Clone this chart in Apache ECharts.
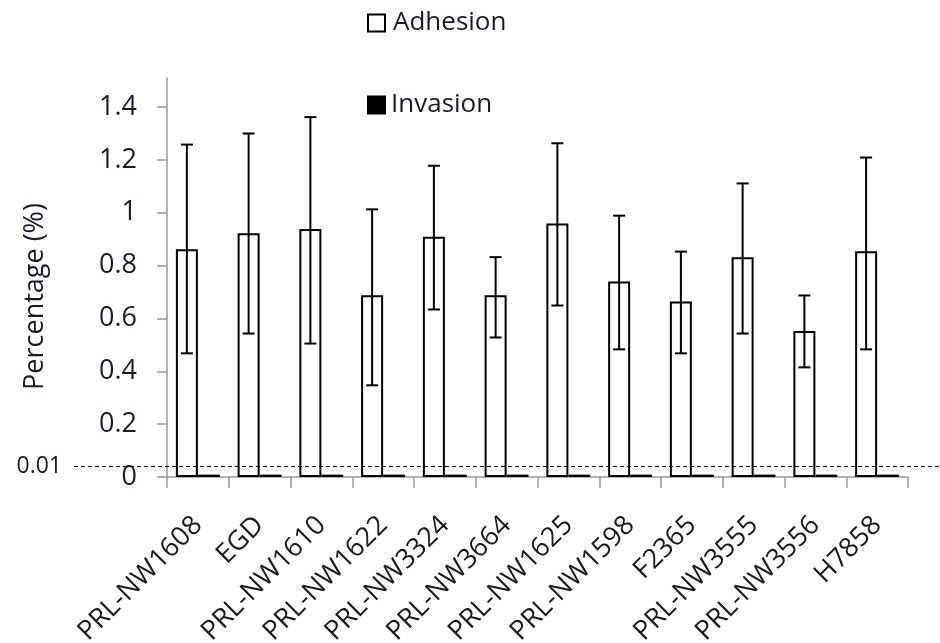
<!DOCTYPE html>
<html>
<head>
<meta charset="utf-8">
<script src="https://cdn.jsdelivr.net/npm/echarts@6/dist/echarts.min.js"></script>
<style>
  html, body { margin: 0; padding: 0; background: #fff; }
  #chart { width: 940px; height: 643px; }
</style>
</head>
<body>
<div id="chart"></div>
<script>
const strains = [
  'PRL-NW1608', 'EGD', 'PRL-NW1610', 'PRL-NW1622', 'PRL-NW3324', 'PRL-NW3664',
  'PRL-NW1625', 'PRL-NW1598', 'F2365', 'PRL-NW3555', 'PRL-NW3556', 'H7858',
]
const adhesion = [0.862, 0.922, 0.939, 0.688, 0.909, 0.688, 0.959, 0.740, 0.664, 0.832, 0.553, 0.854]
const adhesionLow = [0.468, 0.543, 0.505, 0.347, 0.634, 0.528, 0.649, 0.483, 0.468, 0.543, 0.415, 0.483]
const adhesionHigh = [1.258, 1.300, 1.362, 1.013, 1.178, 0.832, 1.263, 0.989, 0.853, 1.111, 0.687, 1.209]
const invasion = [0.009, 0.009, 0.009, 0.009, 0.009, 0.009, 0.009, 0.009, 0.009, 0.009, 0.009, 0.009]
const yTicks = [0, 0.2, 0.4, 0.6, 0.8, 1, 1.2, 1.4]
const cutoffValue = 0.04
const cutoffLabel = '0.01'

const font = '"Open Sans", "DejaVu Sans", sans-serif'
const barWidth = 22

const chart = echarts.init(document.getElementById('chart'), null, { renderer: 'canvas' })

const errorData = strains.map((s, i) => [i, adhesionLow[i], adhesionHigh[i]])

const option = {
  animation: false,
  backgroundColor: '#fff',
  textStyle: { fontFamily: font },
  legend: [
    {
      data: ['Adhesion'],
      icon: 'rect',
      left: 367,
      top: 10,
      padding: 0,
      itemWidth: 17,
      itemHeight: 17,
      textStyle: { fontSize: 26, color: '#1a1a2e', fontFamily: font, padding: [0, 0, 0, 3] },
    },
    {
      data: ['Invasion'],
      icon: 'rect',
      left: 367,
      top: 92,
      padding: 0,
      itemWidth: 17,
      itemHeight: 17,
      textStyle: { fontSize: 26, color: '#1a1a2e', fontFamily: font, padding: [0, 0, 0, 1] },
    },
  ],
  grid: { left: 167, right: 32, top: 78, bottom: 166, outerBoundsMode: 'none' },
  xAxis: {
    type: 'category',
    data: strains,
    axisLine: { lineStyle: { color: '#999', width: 1.5 } },
    axisTick: { show: true, length: 11, lineStyle: { color: '#999', width: 1.5 } },
    axisLabel: {
      rotate: 45,
      interval: 0,
      fontSize: 27,
      color: '#1a1a1a',
      fontFamily: font,
      margin: 44,
    },
  },
  yAxis: {
    type: 'value',
    min: 0,
    max: 1.51,
    interval: 0.2,
    name: 'Percentage (%)',
    nameLocation: 'middle',
    nameRotate: 90,
    nameGap: 118,
    nameTextStyle: { fontSize: 27, color: '#1a1a2e', fontFamily: font, padding: [0, 38, 0, 0] },
    splitLine: { show: false },
    axisLine: { show: true, lineStyle: { color: '#999', width: 1.5 } },
    axisTick: { show: true, length: 10, customValues: yTicks, lineStyle: { color: '#999', width: 1.5 } },
    axisLabel: {
      customValues: yTicks,
      fontSize: 27,
      color: '#1a1a2e',
      fontFamily: font,
      margin: 30,
      formatter: v => String(Math.round(v * 10) / 10),
    },
  },
  series: [
    {
      name: 'Adhesion',
      type: 'bar',
      data: adhesion,
      barWidth: barWidth,
      barGap: '0%',
      itemStyle: { color: '#fff', borderColor: '#000', borderWidth: 2 },
      z: 2,
    },
    {
      name: 'Invasion',
      type: 'bar',
      data: invasion,
      barWidth: barWidth,
      barGap: '0%',
      itemStyle: { color: '#000', borderColor: '#000', borderWidth: 1 },
      z: 2,
    },
    {
      name: 'error',
      type: 'custom',
      clip: false,
      z: 3,
      data: errorData,
      encode: { x: 0, y: [1, 2] },
      renderItem: (params, api) => {
        const idx = api.value(0)
        const low = api.coord([idx, api.value(1)])
        const high = api.coord([idx, api.value(2)])
        const x = low[0] - barWidth / 2
        const cap = 6
        const style = { stroke: '#000', lineWidth: 2 }
        return {
          type: 'group',
          children: [
            { type: 'line', shape: { x1: x, y1: high[1], x2: x, y2: low[1] }, style },
            { type: 'line', shape: { x1: x - cap, y1: high[1], x2: x + cap, y2: high[1] }, style },
            { type: 'line', shape: { x1: x - cap, y1: low[1], x2: x + cap, y2: low[1] }, style },
          ],
        }
      },
      markLine: {
        silent: true,
        symbol: ['none', 'none'],
        lineStyle: { color: '#000', type: [4, 3], width: 1.2 },
        label: {
          show: true,
          position: 'start',
          distance: 12,
          formatter: cutoffLabel,
          fontSize: 23,
          color: '#1a1a2e',
          fontFamily: font,
        },
        data: [[
          { xAxis: 0, yAxis: cutoffValue, x: 74 },
          { xAxis: strains.length - 1, yAxis: cutoffValue, x: 940 },
        ]],
      },
    },
  ],
}

chart.setOption(option)
</script>
</body>
</html>
